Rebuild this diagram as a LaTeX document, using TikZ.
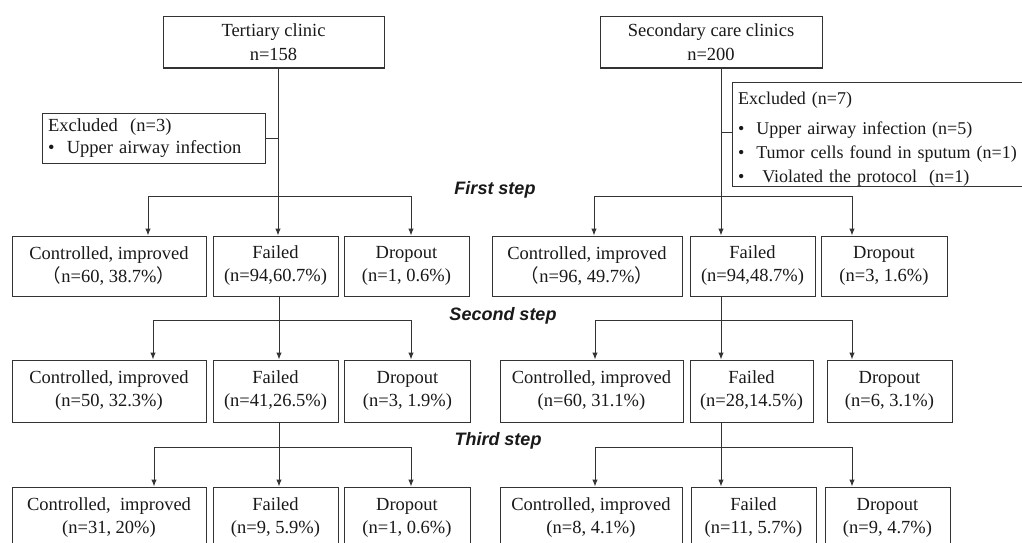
\documentclass[tikz,border=0pt]{standalone}
\usepackage{fontspec}
\setmainfont{Liberation Serif}
\newfontfamily\arialfont{Liberation Sans}
\newfontfamily\cjk{Noto Sans CJK SC}
\usetikzlibrary{arrows.meta}
\begin{document}
\begin{tikzpicture}[x=1pt,y=-1pt,
  box/.style={draw=black!80, line width=1pt, inner sep=0pt, align=center,
    font=\fontsize{18.5}{23}\selectfont, text=black!90},
  exbox/.style={box, align=left, inner xsep=6pt},
  ln/.style={draw=black!80, line width=1pt},
  arr/.style={ln, -{Latex[length=7pt,width=5.5pt]}},
  steplbl/.style={font=\arialfont\bfseries\itshape\fontsize{18}{22}\selectfont, text=black!90}]
\clip (0,0) rectangle (1022,543);
\fill[white] (0,0) rectangle (1022,543);

% top boxes
\node[box, minimum width=221pt, minimum height=51pt, font=\fontsize{18.5}{24}\selectfont] (T) at (273.5,42.5) {Tertiary clinic\\n=158};
\node[box, minimum width=222pt, minimum height=51pt, font=\fontsize{18.5}{24}\selectfont] (S) at (711,42.5) {Secondary care clinics\\n=200};
\node[exbox, minimum width=223pt, minimum height=50pt, text width=211pt, font=\fontsize{18.5}{22}\selectfont] (ExL) at (153.5,138) {Excluded~~(n=3)\\\textbullet~~Upper airway infection};
\node[exbox, minimum width=300pt, minimum height=103pt, text width=288pt, inner xsep=5pt, font=\fontsize{18}{24}\selectfont] (ExR) at (882,134.5) {\rule{0pt}{22pt}Excluded (n=7)\\[6pt]\textbullet~~Upper airway infection (n=5)\\\textbullet~~Tumor cells found in sputum (n=1)\\\textbullet~~ Violated the protocol~~(n=1)};

% row 1
\node[box, minimum width=194pt, minimum height=60pt] (C1L) at (109,266) {Controlled, improved\\{\cjk （}n=60, 38.7\%{\cjk ）}};
\node[box, minimum width=125pt, minimum height=60pt] (F1L) at (275.5,266) {Failed\\(n=94,60.7\%)};
\node[box, minimum width=125pt, minimum height=60pt] (D1L) at (406.5,266) {Dropout\\(n=1, 0.6\%)};
\node[box, minimum width=190pt, minimum height=60pt] (C1R) at (587,266) {Controlled, improved\\{\cjk （}n=96, 49.7\%{\cjk ）}};
\node[box, minimum width=125pt, minimum height=60pt] (F1R) at (752.5,266) {Failed\\(n=94,48.7\%)};
\node[box, minimum width=126pt, minimum height=60pt] (D1R) at (884,266) {Dropout\\(n=3, 1.6\%)};

% row 2
\node[box, minimum width=194pt, minimum height=62pt] (C2L) at (109,391) {Controlled, improved\\(n=50, 32.3\%)};
\node[box, minimum width=125pt, minimum height=62pt] (F2L) at (275.5,391) {Failed\\(n=41,26.5\%)};
\node[box, minimum width=126pt, minimum height=62pt] (D2L) at (407.5,391) {Dropout\\(n=3, 1.9\%)};
\node[box, minimum width=183pt, minimum height=62pt] (C2R) at (591.5,391) {Controlled, improved\\(n=60, 31.1\%)};
\node[box, minimum width=123pt, minimum height=62pt] (F2R) at (751.5,391) {Failed\\(n=28,14.5\%)};
\node[box, minimum width=125pt, minimum height=62pt] (D2R) at (889.5,391) {Dropout\\(n=6, 3.1\%)};

% row 3
\node[box, minimum width=194pt, minimum height=61pt] (C3L) at (109,517.5) {Controlled,~~improved\\(n=31, 20\%)};
\node[box, minimum width=125pt, minimum height=61pt] (F3L) at (275.5,517.5) {Failed\\(n=9, 5.9\%)};
\node[box, minimum width=126pt, minimum height=61pt] (D3L) at (407,517.5) {Dropout\\(n=1, 0.6\%)};
\node[box, minimum width=182pt, minimum height=61pt] (C3R) at (591,517.5) {Controlled, improved\\(n=8, 4.1\%)};
\node[box, minimum width=125pt, minimum height=61pt] (F3R) at (753.5,517.5) {Failed\\(n=11, 5.7\%)};
\node[box, minimum width=125pt, minimum height=61pt] (D3R) at (887.5,517.5) {Dropout\\(n=9, 4.7\%)};

% step labels
\node[steplbl] (st1) at (495,190) {First step};
\node[steplbl] (st2) at (503,316) {Second step};
\node[steplbl] (st3) at (498,441) {Third step};

% left connectors
\coordinate (j1L) at (278,196); \coordinate (a1L) at (148,196); \coordinate (c1L) at (411,196);
\draw[ln] (T.south -| j1L) -- (j1L);
\draw[ln] (ExL.east) -- (ExL.east -| j1L);
\draw[ln] (a1L) -- (c1L);
\draw[arr] (a1L) -- (a1L |- C1L.north);
\draw[arr] (j1L) -- (j1L |- F1L.north);
\draw[arr] (c1L) -- (c1L |- D1L.north);

\coordinate (j2L) at (279,320); \coordinate (a2L) at (153,320); \coordinate (c2L) at (411,320);
\draw[ln] (F1L.south -| j2L) -- (j2L);
\draw[ln] (a2L) -- (c2L);
\draw[arr] (a2L) -- (a2L |- C2L.north);
\draw[arr] (j2L) -- (j2L |- F2L.north);
\draw[arr] (c2L) -- (c2L |- D2L.north);

\coordinate (j3L) at (279,447); \coordinate (a3L) at (154,447); \coordinate (c3L) at (411,447);
\draw[ln] (F2L.south -| j3L) -- (j3L);
\draw[ln] (a3L) -- (c3L);
\draw[arr] (a3L) -- (a3L |- C3L.north);
\draw[arr] (j3L) -- (j3L |- F3L.north);
\draw[arr] (c3L) -- (c3L |- D3L.north);

% right connectors
\coordinate (j1R) at (721,196); \coordinate (a1R) at (594,196); \coordinate (c1R) at (852,196);
\draw[ln] (S.south -| j1R) -- (j1R);
\coordinate (exr) at (721,132);
\draw[ln] (exr) -- (exr -| ExR.west);
\draw[ln] (a1R) -- (c1R);
\draw[arr] (a1R) -- (a1R |- C1R.north);
\draw[arr] (j1R) -- (j1R |- F1R.north);
\draw[arr] (c1R) -- (c1R |- D1R.north);

\coordinate (j2R) at (721,320); \coordinate (a2R) at (595,320); \coordinate (c2R) at (852,320);
\draw[ln] (F1R.south -| j2R) -- (j2R);
\draw[ln] (a2R) -- (c2R);
\draw[arr] (a2R) -- (a2R |- C2R.north);
\draw[arr] (j2R) -- (j2R |- F2R.north);
\draw[arr] (c2R) -- (c2R |- D2R.north);

\coordinate (j3R) at (721,447); \coordinate (a3R) at (595,447); \coordinate (c3R) at (852,447);
\draw[ln] (F2R.south -| j3R) -- (j3R);
\draw[ln] (a3R) -- (c3R);
\draw[arr] (a3R) -- (a3R |- C3R.north);
\draw[arr] (j3R) -- (j3R |- F3R.north);
\draw[arr] (c3R) -- (c3R |- D3R.north);
\end{tikzpicture}
\end{document}
